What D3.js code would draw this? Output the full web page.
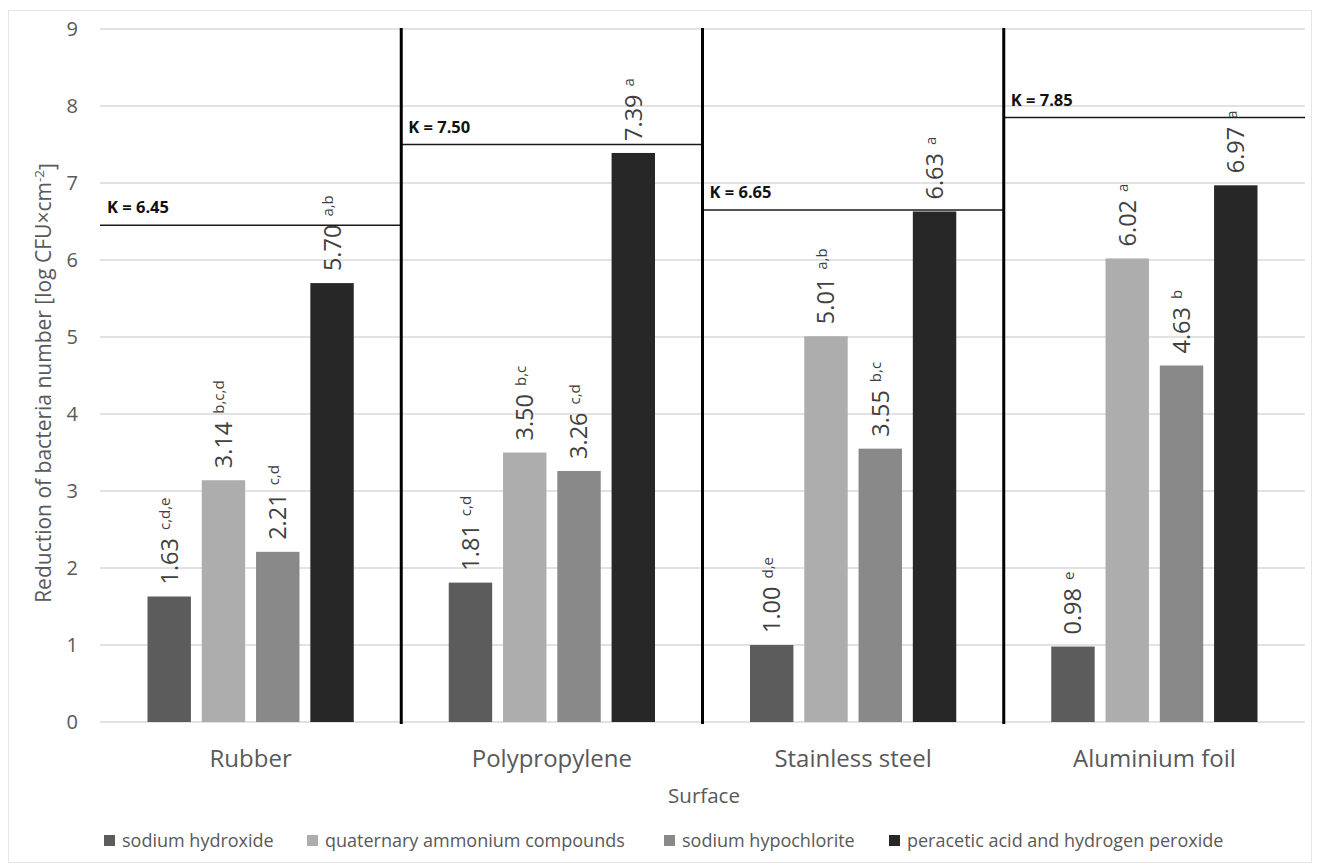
<!DOCTYPE html>
<html>
<head>
<meta charset="utf-8">
<script src="https://cdn.jsdelivr.net/npm/d3@7"></script>
<style>
  html, body { margin: 0; padding: 0; background: #fff; }
  svg { display: block; font-family: "Open Sans", "Noto Sans", sans-serif; }
</style>
</head>
<body>
<svg id="chart" width="1320" height="866"></svg>
<script>
// Surfaces (x categories)
const surfaces = ["Rubber", "Polypropylene", "Stainless steel", "Aluminium foil"];
// Disinfectants (series)
const disinfectants = ["sodium hydroxide", "quaternary ammonium compounds", "sodium hypochlorite", "peracetic acid and hydrogen peroxide"];
const seriesColors = ["#5c5c5c", "#adadad", "#898989", "#272727"];

// Reduction values [log CFU×cm-2], one array per disinfectant (order follows surfaces)
const sodiumHydroxide    = [1.63, 1.81, 1.00, 0.98];
const quaternaryAmmonium = [3.14, 3.50, 5.01, 6.02];
const sodiumHypochlorite = [2.21, 3.26, 3.55, 4.63];
const peraceticAcid      = [5.70, 7.39, 6.63, 6.97];

// Homogeneous group letters
const lettersHydroxide    = ["c,d,e", "c,d", "d,e", "e"];
const lettersQuaternary   = ["b,c,d", "b,c", "a,b", "a"];
const lettersHypochlorite = ["c,d", "c,d", "b,c", "b"];
const lettersPeracetic    = ["a,b", "a", "a", "a"];

// Control (initial count) per surface
const controlK = [6.45, 7.50, 6.65, 7.85];

const yTicks = [0, 1, 2, 3, 4, 5, 6, 7, 8, 9];

const seriesValues = [sodiumHydroxide, quaternaryAmmonium, sodiumHypochlorite, peraceticAcid];
const seriesLetters = [lettersHydroxide, lettersQuaternary, lettersHypochlorite, lettersPeracetic];

const svg = d3.select("#chart");
const W = 1320, H = 866;
const plot = { left: 100, right: 1305, top: 29, bottom: 722 };

// outer frame
svg.append("rect")
  .attr("x", 8.5).attr("y", 10.5).attr("width", W - 17).attr("height", H - 14)
  .attr("fill", "#fff").attr("stroke", "#e4e4e4").attr("stroke-width", 1);

const x0 = d3.scaleBand().domain(surfaces).range([plot.left, plot.right]).padding(0);
const x1 = d3.scaleBand().domain(d3.range(disinfectants.length))
  .range([0, x0.bandwidth()]).paddingInner(0.2).paddingOuter(0.875);
const y = d3.scaleLinear().domain([0, 9]).range([plot.bottom, plot.top]);

// gridlines
svg.append("g").selectAll("line").data(yTicks).join("line")
  .attr("x1", plot.left).attr("x2", plot.right)
  .attr("y1", d => y(d)).attr("y2", d => y(d))
  .attr("stroke", "#d9d9d9").attr("stroke-width", 1.3);

// y axis labels
const yAxis = d3.axisLeft(y).tickValues(yTicks).tickSize(0).tickPadding(0).tickFormat(d3.format("d"));
const gy = svg.append("g").attr("transform", `translate(${plot.left - 22},0)`).call(yAxis);
gy.select(".domain").remove();
gy.selectAll("text").attr("fill", "#595959").attr("font-size", 20)
  .attr("font-family", "Open Sans, sans-serif");

// bars
const groups = svg.append("g").selectAll("g").data(surfaces).join("g")
  .attr("transform", d => `translate(${x0(d)},0)`);

groups.each(function(surface, si) {
  const g = d3.select(this);
  seriesValues.forEach((vals, k) => {
    const v = vals[si];
    g.append("rect")
      .attr("x", x1(k)).attr("width", x1.bandwidth())
      .attr("y", y(v)).attr("height", y(0) - y(v))
      .attr("fill", seriesColors[k]);
    const cx = x1(k) + x1.bandwidth() / 2;
    const t = g.append("text")
      .attr("transform", `translate(${cx},${y(v) - 12}) rotate(-90)`)
      .attr("text-anchor", "start")
      .attr("fill", "#404040")
      .attr("font-size", 23.5);
    t.append("tspan").attr("dy", "0.36em").text(v.toFixed(2));
    t.append("tspan").attr("dx", 8).attr("dy", "-0.5em")
      .attr("font-size", 15).text(seriesLetters[k][si]);
  });
});

// control level lines with labels
surfaces.forEach((s, i) => {
  const xs = x0(s), xe = x0(s) + x0.bandwidth();
  svg.append("line")
    .attr("x1", xs).attr("x2", xe)
    .attr("y1", y(controlK[i])).attr("y2", y(controlK[i]))
    .attr("stroke", "#1a1a1a").attr("stroke-width", 1.5);
  svg.append("text")
    .attr("x", xs + 7).attr("y", y(controlK[i]) - 12)
    .attr("font-size", 16.5).attr("font-weight", "bold").attr("fill", "#111")
    .text(`K = ${controlK[i].toFixed(2)}`);
});

// dividers between surfaces
svg.append("g").selectAll("line").data(surfaces.slice(0, -1)).join("line")
  .attr("x1", d => x0(d) + x0.bandwidth()).attr("x2", d => x0(d) + x0.bandwidth())
  .attr("y1", plot.top - 1).attr("y2", plot.bottom + 2)
  .attr("stroke", "#000").attr("stroke-width", 3);

// category labels
svg.append("g").selectAll("text").data(surfaces).join("text")
  .attr("x", d => x0(d) + x0.bandwidth() / 2).attr("y", 767)
  .attr("text-anchor", "middle").attr("font-size", 24).attr("fill", "#595959")
  .text(d => d);

// axis titles
svg.append("text").attr("x", 704).attr("y", 803)
  .attr("text-anchor", "middle").attr("font-size", 20.5).attr("fill", "#595959")
  .text("Surface");

const yt = svg.append("text")
  .attr("transform", `translate(51,383) rotate(-90)`)
  .attr("text-anchor", "middle").attr("font-size", 21).attr("fill", "#595959");
yt.append("tspan").text("Reduction of bacteria number [log CFU×cm");
yt.append("tspan").attr("dy", "-0.5em").attr("font-size", 13.5).text("-2");
yt.append("tspan").attr("dy", "0.5em").text("]");

// legend
const legendX = [104, 307, 664, 889];
const lg = svg.append("g").selectAll("g").data(disinfectants).join("g")
  .attr("transform", (d, i) => `translate(${legendX[i]},847)`);
lg.append("rect").attr("x", 0).attr("y", -12).attr("width", 11).attr("height", 11)
  .attr("fill", (d, i) => seriesColors[i]);
lg.append("text").attr("x", 18).attr("y", 0)
  .attr("font-size", 18).attr("fill", "#595959").text(d => d);
</script>
</body>
</html>
